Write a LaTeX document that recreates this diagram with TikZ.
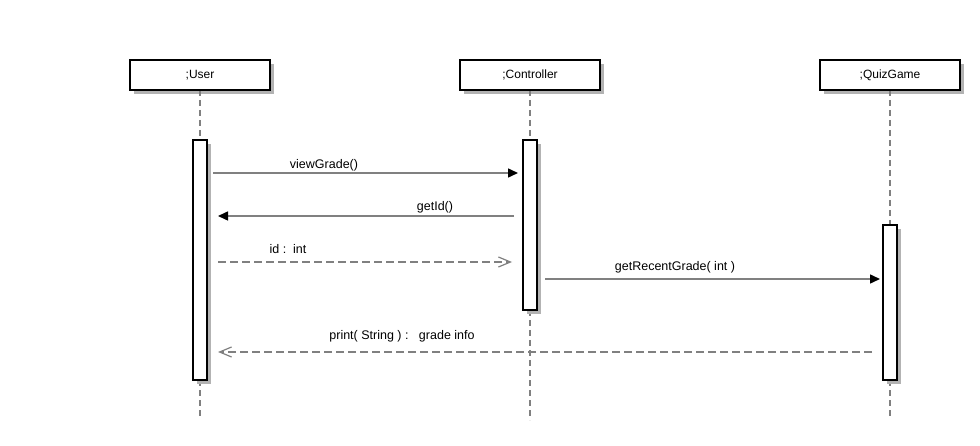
\documentclass[tikz,border=0pt]{standalone}
\usepackage{fontspec}
\setmainfont{Liberation Sans}
\usetikzlibrary{arrows.meta}
\definecolor{ln}{HTML}{808080}
\definecolor{shd}{HTML}{B3B3B3}
\tikzset{
  head/.style={draw=black, line width=2pt, fill=white, minimum width=140pt, minimum height=30pt, inner sep=0pt, font=\fontsize{12pt}{14pt}\selectfont},
  life/.style={draw=ln, line width=1.5pt, dash pattern=on 6pt off 4pt},
  msg/.style={draw=ln, line width=1.5pt, -{Triangle[length=10pt,width=9pt,fill=black,color=black]}},
  ret/.style={draw=ln, line width=1.3pt, dash pattern=on 8pt off 4pt, -{Straight Barb[length=12pt,width=10pt,color=ln,line width=1.2pt]}},
  act/.style={draw=black, line width=2pt, fill=white},
  lbl/.style={font=\fontsize{12.5pt}{14pt}\selectfont, inner sep=1pt}
}
\begin{document}
\begin{tikzpicture}[x=1pt,y=-1pt]
\useasboundingbox (0,0) rectangle (980,446);
% shadows of heads
\fill[shd] (134,64) rectangle (274,94);
\fill[shd] (464,64) rectangle (604,94);
\fill[shd] (824,64) rectangle (964,94);
% lifelines
\coordinate (u0) at (200,90); \coordinate (u1) at (200,418);
\coordinate (c0) at (530,90); \coordinate (c1) at (530,420);
\coordinate (q0) at (890,90); \coordinate (q1) at (890,418);
\draw[life] (u0) -- (u1);
\draw[life] (c0) -- (c1);
\draw[life] (q0) -- (q1);
% heads
\node[head] (user) at (200,75) {;User};
\node[head] (ctrl) at (530,75) {;Controller};
\node[head] (quiz) at (890,75) {;QuizGame};
% activation shadows
\fill[shd] (197,144) rectangle (211,384);
\fill[shd] (527,144) rectangle (541,314);
\fill[shd] (887,229) rectangle (901,384);
% activations
\draw[act] (193,140) rectangle (207,380);
\draw[act] (523,140) rectangle (537,310);
\draw[act] (883,225) rectangle (897,380);
% messages
\coordinate (m1a) at (213,173); \coordinate (m1b) at (518,173);
\draw[msg] (m1a) -- (m1b);
\node[lbl] (l1) at (324,165) {viewGrade()};
\coordinate (m2a) at (514,216); \coordinate (m2b) at (218,216);
\draw[msg] (m2a) -- (m2b);
\node[lbl] (l2) at (435,207) {getId()};
\coordinate (m3a) at (218,262); \coordinate (m3b) at (512,262);
\draw[ret] (m3a) -- (m3b);
\node[lbl] (l3) at (288,249) {id :\ \ int};
\coordinate (m4a) at (545,279); \coordinate (m4b) at (880,279);
\draw[msg] (m4a) -- (m4b);
\node[lbl] (l4) at (675,267) {getRecentGrade( int )};
\coordinate (m5a) at (872,352); \coordinate (m5b) at (218,352);
\draw[ret] (m5a) -- (m5b);
\node[lbl] (l5) at (402,336) {print( String ) :\ \ \ grade info};
\end{tikzpicture}
\end{document}
